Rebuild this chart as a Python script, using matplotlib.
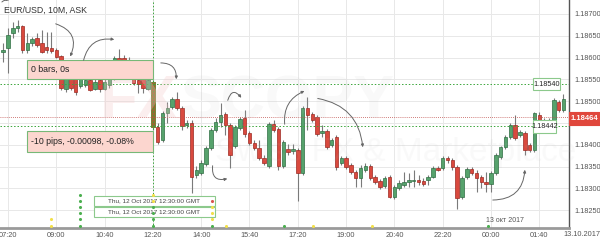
import numpy as np
import matplotlib.pyplot as plt
from matplotlib.patches import Rectangle, FancyArrowPatch

plt.rcParams['font.family'] = ['Liberation Sans', 'DejaVu Sans']

# ---- data (10 minute bars, first bar 07:10) ----
opens = [1.18613, 1.18622, 1.18656, 1.18668, 1.18672, 1.18617, 1.18633, 1.18645, 1.18633, 1.18624,
         1.18622, 1.18617, 1.18604, 1.18528, 1.18555, 1.18553, 1.18535, 1.18537, 1.18549, 1.18528,
         1.18549, 1.18528, 1.18537, 1.18553, 1.18599, 1.18599, 1.18594, 1.18567, 1.18549, 1.18551,
         1.18528, 1.18544, 1.18441, 1.18411, 1.18473, 1.18487, 1.18505, 1.18484, 1.18445, 1.18450,
         1.18331, 1.18335, 1.18356, 1.18393, 1.18434, 1.18452, 1.18471, 1.18445, 1.18397, 1.18438,
         1.18461, 1.18427, 1.18404, 1.18393, 1.18370, 1.18351, 1.18448, 1.18436, 1.18351, 1.18390,
         1.18386, 1.18388, 1.18335, 1.18484, 1.18471, 1.18464, 1.18427, 1.18431, 1.18399, 1.18418,
         1.18358, 1.18370, 1.18354, 1.18338, 1.18324, 1.18342, 1.18351, 1.18326, 1.18317, 1.18305,
         1.18326, 1.18280, 1.18301, 1.18308, 1.18315, 1.18317, 1.18319, 1.18317, 1.18319, 1.18326,
         1.18347, 1.18347, 1.18370, 1.18365, 1.18349, 1.18280, 1.18326, 1.18344, 1.18335, 1.18326,
         1.18315, 1.18310, 1.18335, 1.18372, 1.18395, 1.18418, 1.18445, 1.18422, 1.18427, 1.18399,
         1.18388, 1.18468, 1.18438, 1.18457, 1.18452, 1.18498, 1.18480]
highs = [1.18633, 1.18668, 1.18682, 1.18686, 1.18675, 1.18656, 1.18647, 1.18656, 1.18663, 1.18659,
         1.18659, 1.18622, 1.18606, 1.18560, 1.18567, 1.18562, 1.18560, 1.18555, 1.18555, 1.18553,
         1.18555, 1.18553, 1.18562, 1.18604, 1.18620, 1.18606, 1.18601, 1.18572, 1.18553, 1.18555,
         1.18553, 1.18549, 1.18450, 1.18477, 1.18498, 1.18510, 1.18521, 1.18489, 1.18457, 1.18457,
         1.18351, 1.18365, 1.18397, 1.18438, 1.18461, 1.18496, 1.18475, 1.18450, 1.18445, 1.18464,
         1.18480, 1.18431, 1.18411, 1.18411, 1.18377, 1.18452, 1.18457, 1.18441, 1.18411, 1.18402,
         1.18402, 1.18393, 1.18489, 1.18510, 1.18475, 1.18468, 1.18445, 1.18436, 1.18416, 1.18422,
         1.18374, 1.18374, 1.18358, 1.18342, 1.18354, 1.18358, 1.18356, 1.18331, 1.18321, 1.18328,
         1.18331, 1.18308, 1.18319, 1.18338, 1.18335, 1.18342, 1.18331, 1.18324, 1.18331, 1.18351,
         1.18351, 1.18374, 1.18374, 1.18370, 1.18354, 1.18328, 1.18349, 1.18349, 1.18342, 1.18331,
         1.18338, 1.18340, 1.18381, 1.18397, 1.18422, 1.18450, 1.18468, 1.18434, 1.18431, 1.18404,
         1.18475, 1.18475, 1.18461, 1.18461, 1.18507, 1.18503, 1.18516]
lows = [1.18590, 1.18565, 1.18645, 1.18659, 1.18611, 1.18611, 1.18627, 1.18624, 1.18611, 1.18611,
        1.18611, 1.18599, 1.18526, 1.18521, 1.18526, 1.18514, 1.18530, 1.18533, 1.18523, 1.18526,
        1.18521, 1.18526, 1.18530, 1.18549, 1.18583, 1.18572, 1.18553, 1.18537, 1.18519, 1.18519,
        1.18526, 1.18434, 1.18402, 1.18406, 1.18450, 1.18482, 1.18480, 1.18434, 1.18438, 1.18289,
        1.18324, 1.18331, 1.18351, 1.18388, 1.18429, 1.18441, 1.18422, 1.18347, 1.18393, 1.18434,
        1.18418, 1.18399, 1.18388, 1.18365, 1.18354, 1.18347, 1.18429, 1.18342, 1.18347, 1.18377,
        1.18379, 1.18271, 1.18331, 1.18434, 1.18452, 1.18420, 1.18418, 1.18390, 1.18395, 1.18342,
        1.18354, 1.18344, 1.18333, 1.18303, 1.18303, 1.18338, 1.18319, 1.18310, 1.18299, 1.18301,
        1.18278, 1.18276, 1.18296, 1.18303, 1.18303, 1.18303, 1.18308, 1.18305, 1.18308, 1.18324,
        1.18340, 1.18342, 1.18358, 1.18342, 1.18253, 1.18276, 1.18321, 1.18331, 1.18292, 1.18301,
        1.18292, 1.18292, 1.18331, 1.18367, 1.18390, 1.18413, 1.18411, 1.18418, 1.18377, 1.18383,
        1.18383, 1.18434, 1.18431, 1.18434, 1.18448, 1.18475, 1.18475]
closes = [1.18617, 1.18652, 1.18668, 1.18672, 1.18617, 1.18633, 1.18643, 1.18629, 1.18613, 1.18617,
          1.18615, 1.18601, 1.18530, 1.18553, 1.18530, 1.18521, 1.18551, 1.18549, 1.18526, 1.18544,
          1.18528, 1.18544, 1.18553, 1.18599, 1.18590, 1.18583, 1.18558, 1.18542, 1.18539, 1.18530,
          1.18549, 1.18441, 1.18406, 1.18473, 1.18484, 1.18505, 1.18484, 1.18443, 1.18450, 1.18326,
          1.18342, 1.18358, 1.18393, 1.18434, 1.18452, 1.18468, 1.18445, 1.18377, 1.18441, 1.18459,
          1.18425, 1.18404, 1.18393, 1.18370, 1.18358, 1.18448, 1.18434, 1.18351, 1.18406, 1.18383,
          1.18390, 1.18335, 1.18484, 1.18468, 1.18457, 1.18425, 1.18431, 1.18395, 1.18411, 1.18349,
          1.18370, 1.18349, 1.18338, 1.18324, 1.18347, 1.18351, 1.18324, 1.18315, 1.18303, 1.18324,
          1.18280, 1.18303, 1.18312, 1.18315, 1.18319, 1.18319, 1.18315, 1.18310, 1.18326, 1.18347,
          1.18342, 1.18370, 1.18365, 1.18349, 1.18278, 1.18324, 1.18344, 1.18335, 1.18324, 1.18315,
          1.18310, 1.18335, 1.18377, 1.18395, 1.18418, 1.18445, 1.18416, 1.18429, 1.18388, 1.18388,
          1.18473, 1.18445, 1.18457, 1.18441, 1.18503, 1.18480, 1.18505]

time_labels = ["07:20", "09:00", "10:40", "12:20", "14:00", "15:40",
               "17:20", "19:00", "20:40", "22:20", "00:00", "01:40"]
price_ticks = [1.18250, 1.18300, 1.18350, 1.18400, 1.18450, 1.18500,
               1.18550, 1.18600, 1.18650, 1.18700]
level_hi = 1.18540
level_lo = 1.18442
last_price = 1.18464
marked_bar = 30   # 12:20 bar
event_text = "Thu, 12 Oct 2017 12:30:00 GMT"

W, H = 600, 241
fig = plt.figure(figsize=(6, 2.41), dpi=100)
fig.patch.set_facecolor('white')
ax = fig.add_axes([0, 13 / H, 569 / W, 228 / H])

o = np.array(opens); h = np.array(highs); l = np.array(lows); c = np.array(closes)
x = np.arange(len(o)) - 1          # index 0 -> 07:20
up = c >= o
green, red = '#56a26c', '#d9493e'
green_e, red_e = '#2f6e43', '#9c2a22'

ax.vlines(x, l, h, color='#7a7a7a', lw=0.8, zorder=2)
body_lo = np.minimum(o, c)
body_h = np.maximum(np.abs(c - o), 0.000015)
ax.bar(x[up], body_h[up], bottom=body_lo[up], width=0.72, color=green,
       edgecolor=green_e, lw=0.5, zorder=3)
ax.bar(x[~up], body_h[~up], bottom=body_lo[~up], width=0.72, color=red,
       edgecolor=red_e, lw=0.5, zorder=3)
# highlighted bar of the measurement
m = marked_bar + 1
ax.bar([x[m]], [o[m] - c[m]], bottom=c[m], width=0.75, color='#9a6630',
       edgecolor='#6b8f3a', lw=0.6, zorder=4)

ax.set_xlim(-1.656, 116.15)
ax.set_ylim(1.18209, 1.18732)
ax.set_xticks(np.arange(0, 120, 10))
ax.set_xticklabels(time_labels)
ax.yaxis.tick_right()
ax.set_yticks(price_ticks)
# the 1.18450 label sits under the last-price box
ax.set_yticklabels(['' if abs(p - 1.18450) < 1e-7 else '%.5f' % p for p in price_ticks])
ax.tick_params(axis='both', length=0, labelsize=5.3, colors='#555555', pad=3)
ax.tick_params(axis='y', pad=4)
ax.grid(True, color='#e8e8e8', lw=0.7)
ax.set_axisbelow(True)
for s in ['top', 'left']:
    ax.spines[s].set_visible(False)
ax.spines['bottom'].set_color('#9a9a9a'); ax.spines['bottom'].set_linewidth(2)
ax.spines['right'].set_color('#555555'); ax.spines['right'].set_linewidth(1)

ax.axhline(level_hi, color='#3aa53a', ls=(0, (1.5, 2)), lw=0.7, zorder=5)
ax.axhline(level_lo, color='#3aa53a', ls=(0, (1.5, 2)), lw=0.7, zorder=5)
ax.axhline(last_price, color='#c0504d', ls=(0, (1, 1.5)), lw=0.6, zorder=5)
ax.axvline(marked_bar, color='#3aa53a', ls=(0, (1.5, 2)), lw=0.7, zorder=5)

# ---- overlay in pixel coordinates ----
ov = fig.add_axes([0, 0, 1, 1], facecolor='none')
ov.set_xlim(0, W); ov.set_ylim(H, 0); ov.axis('off')

# watermark (very faint)
ov.text(100, 103, 'FX', fontsize=44, color='#f3c9c9', alpha=0.3, fontweight='bold',
        va='center', ha='left', zorder=0)
ov.text(180, 103, 'SCOPY', fontsize=44, color='#bdbdbd', alpha=0.09, fontweight='bold',
        va='center', ha='left', zorder=0)
ov.text(215, 153, 'Swiss FX & Marketplace', fontsize=24, color='#bdbdbd', alpha=0.08,
        va='center', ha='left', zorder=0)

ov.text(4, 10, 'EUR/USD, 10M, ASK', fontsize=6.3, color='#333333', va='center')

def box(x0, y0, x1, y1, fc, ec, txt, tx, fs, tc='#222222', ha='left', bold=False):
    ov.add_patch(Rectangle((x0, y0), x1 - x0, y1 - y0, facecolor=fc, edgecolor=ec,
                           lw=0.8, zorder=6))
    ov.text(tx, (y0 + y1) / 2, txt, fontsize=fs, color=tc, va='center', ha=ha, zorder=7,
            fontweight='bold' if bold else 'normal')

box(27, 60, 153, 79, '#fcd6cf', '#77b877', '0 bars, 0s', 31, 6.3)
box(27, 131, 153, 152, '#fcd6cf', '#77b877', '-10 pips, -0.00098, -0.08%', 31, 6.3)
box(533, 78, 560, 90, 'white', '#8cc98c', '1.18540', 546.5, 5.2, ha='center')
box(533, 120, 556, 133, 'white', '#8cc98c', '1.18442', 544.5, 5.2, ha='center')
box(569, 112, 600, 125, '#e0473c', '#e0473c', '1.18464', 584.5, 5.5, tc='white',
    ha='center', bold=True)
box(94, 196, 215, 206, 'white', '#8cc98c', event_text, 154, 4.6, tc='#444444', ha='center')
box(94, 207, 215, 217, 'white', '#8cc98c', event_text, 154, 4.6, tc='#444444', ha='center')

# curved arrows
arcs = [((53, 23), (69, 59), -0.6), ((83, 63), (117, 40), -0.5),
        ((158, 63), (176, 82), -0.6), ((227, 103), (243, 100), -1.1),
        ((285, 127), (307, 90), -0.4), ((315, 98), (363, 150), -0.4),
        ((213, 163), (230, 178), 0.8), ((490, 200), (525, 167), 0.5),
        ((0, 4), (12, 1), -0.4)]
for a, b, r in arcs:
    ov.add_patch(FancyArrowPatch(a, b, connectionstyle='arc3,rad=%s' % r,
                                 arrowstyle='-|>', mutation_scale=4, color='#666666',
                                 lw=0.7, zorder=6))

# event dots
gdot, ydot, rdot = '#4caf50', '#f2e04a', '#d9534f'
for yy in [195, 201, 207, 213, 219, 226]:
    ov.scatter(80, yy, s=5, color=gdot, zorder=8, lw=0)
for yy in [219, 226]:
    ov.scatter(51, yy, s=5, color=ydot, zorder=8, lw=0)
for yy, col in [(195, ydot), (201, ydot), (207, gdot), (213, gdot), (219, gdot), (226, gdot)]:
    ov.scatter(153, yy, s=5, color=col, zorder=8, lw=0)
for yy, col in [(201, rdot), (207, ydot), (213, ydot), (219, ydot), (226, gdot)]:
    ov.scatter(212, yy, s=5, color=col, zorder=8, lw=0)
for xx, col in [(226, ydot), (284, gdot), (313, ydot), (372, ydot), (488, gdot)]:
    ov.scatter(xx, 226, s=5, color=col, zorder=8, lw=0)

ov.text(505, 220, '13 окт 2017', fontsize=5, color='#555555', ha='center', va='center')
ov.text(582, 235, '13.10.2017', fontsize=5.3, color='#555555', ha='center', va='center')

fig.savefig('out.png', dpi=100)
